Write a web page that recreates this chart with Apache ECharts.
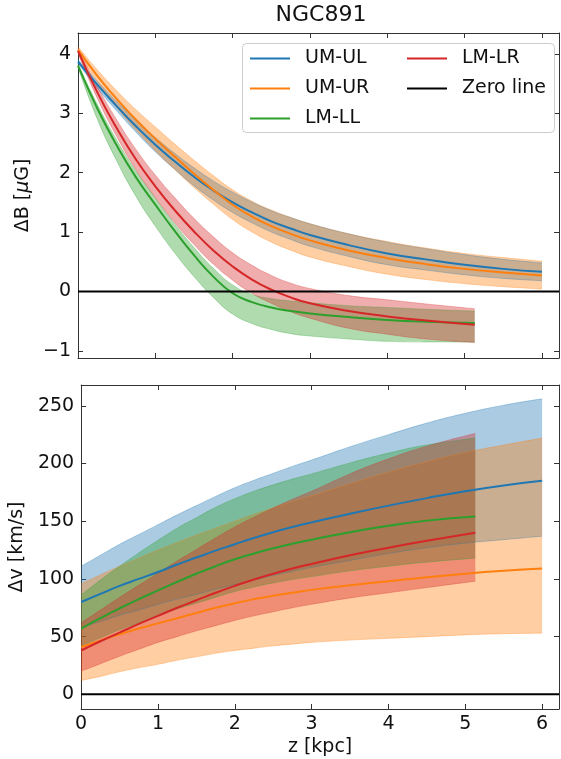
<!DOCTYPE html>
<html>
<head>
<meta charset="utf-8">
<script src="https://cdn.jsdelivr.net/npm/echarts@6/dist/echarts.min.js"></script>
<style>
  html, body { margin: 0; padding: 0; background: #fff; }
  #chart { width: 561px; height: 759px; }
</style>
</head>
<body>
<div id="chart"></div>
<script>
// Height above the disc (kpc) at which each profile is sampled
const zUM = [0, 0.25, 0.5, 0.75, 1, 1.25, 1.5, 1.75, 2, 2.25, 2.5, 2.75, 3, 3.5, 4, 4.5, 5, 5.5, 6];
const zLM = [0, 0.25, 0.5, 0.75, 1, 1.25, 1.5, 1.75, 2, 2.25, 2.5, 2.75, 3, 3.5, 4, 4.5, 5.13];

// Magnetic field difference ΔB (μG): best fit, lower and upper bounds
const bUL   = [3.87, 3.48, 3.12, 2.78, 2.47, 2.19, 1.93, 1.70, 1.50, 1.33, 1.18, 1.06, 0.95, 0.78, 0.64, 0.54, 0.45, 0.38, 0.33];
const bULlo = [3.84, 3.42, 3.04, 2.68, 2.35, 2.055, 1.78, 1.54, 1.33, 1.155, 1.00, 0.875, 0.76, 0.59, 0.45, 0.36, 0.28, 0.22, 0.18];
const bULhi = [3.90, 3.54, 3.20, 2.88, 2.59, 2.325, 2.08, 1.86, 1.67, 1.505, 1.36, 1.245, 1.14, 0.97, 0.83, 0.72, 0.62, 0.54, 0.48];
const bUR   = [4.07, 3.63, 3.24, 2.89, 2.57, 2.27, 1.98, 1.71, 1.46, 1.26, 1.10, 0.97, 0.86, 0.69, 0.56, 0.46, 0.38, 0.32, 0.27];
const bURlo = [4.02, 3.53, 3.10, 2.72, 2.37, 2.055, 1.75, 1.47, 1.21, 1.00, 0.83, 0.695, 0.58, 0.42, 0.29, 0.20, 0.13, 0.08, 0.04];
const bURhi = [4.12, 3.73, 3.38, 3.06, 2.77, 2.485, 2.21, 1.95, 1.71, 1.52, 1.37, 1.245, 1.14, 0.97, 0.84, 0.73, 0.64, 0.57, 0.51];
const bLL   = [3.80, 3.08, 2.46, 1.92, 1.46, 1.02, 0.61, 0.25, -0.03, -0.18, -0.27, -0.33, -0.37, -0.43, -0.48, -0.51, -0.53];
const bLLlo = [3.77, 2.90, 2.20, 1.60, 1.10, 0.65, 0.25, -0.10, -0.38, -0.54, -0.64, -0.71, -0.75, -0.80, -0.84, -0.85, -0.85];
const bLLhi = [3.83, 3.15, 2.55, 2.03, 1.57, 1.14, 0.74, 0.39, 0.11, -0.05, -0.12, -0.16, -0.19, -0.24, -0.27, -0.30, -0.33];
const bLR   = [4.05, 3.35, 2.75, 2.22, 1.77, 1.37, 1.01, 0.69, 0.42, 0.20, 0.03, -0.10, -0.20, -0.33, -0.42, -0.49, -0.56];
const bLRlo = [4.01, 3.25, 2.61, 2.05, 1.58, 1.16, 0.79, 0.46, 0.19, -0.03, -0.20, -0.34, -0.45, -0.62, -0.72, -0.80, -0.86];
const bLRhi = [4.09, 3.45, 2.89, 2.39, 1.96, 1.58, 1.23, 0.92, 0.65, 0.44, 0.27, 0.14, 0.05, -0.07, -0.14, -0.21, -0.29];

// Velocity difference Δv (km/s): best fit, lower and upper bounds
const vUL   = [80, 87, 94, 100, 106, 112.5, 118.5, 124.5, 130, 135.5, 140.5, 145, 149, 156.5, 163.5, 170, 176, 181, 185];
const vULlo = [58, 63, 68.5, 73, 78, 82.5, 86.5, 91, 95, 99, 103, 106.5, 110, 116, 122, 127, 131, 134, 137];
const vULhi = [111, 120.5, 130, 138.5, 147, 155.5, 163.5, 171.5, 179, 185.5, 191.5, 197.5, 203, 214.5, 225, 235, 243.5, 250.5, 256];
const vUR   = [41, 46.5, 52, 57, 61.5, 66, 70.5, 75, 79, 82.5, 85.5, 88, 90.5, 94.5, 98, 101.5, 104.5, 107, 109];
const vURlo = [12, 15.5, 19.5, 23, 26, 29.5, 32.5, 35.5, 38, 40, 42, 43.5, 45, 47, 48.5, 50, 51.5, 52.5, 53];
const vURhi = [96, 103.5, 111, 118, 125, 131.5, 138, 144, 150, 156, 161.5, 167, 172, 182.5, 192.5, 201.5, 209.5, 216, 222];
const vLL   = [57, 66, 74.5, 82.5, 90, 97.5, 104.5, 111, 117, 122, 126.5, 130.5, 134, 140.5, 146, 150.5, 154];
const vLLlo = [42, 49, 56, 62, 68, 74, 79, 84, 89, 93, 96.5, 99.5, 102, 107, 111, 114.5, 118];
const vLLhi = [86, 99, 111, 122.5, 133.5, 144, 153, 162, 169.5, 176, 181.5, 186.5, 191, 200.5, 209, 216, 222];
const vLR   = [38, 46, 53.5, 61, 68, 75, 81.5, 88, 94, 99.5, 104.5, 109, 113, 120.5, 127, 133, 140];
const vLRlo = [20, 26.5, 33, 39, 45, 50, 55, 59.5, 64, 68, 71.5, 75, 78, 83.5, 88, 92.5, 98];
const vLRhi = [62, 73, 84, 94.5, 105, 115.5, 125.5, 135.5, 145, 153.5, 161.5, 169, 176, 191, 204, 215, 226];

// Axis ranges and tick labels
const zRange = [0, 6.22];
const bRange = [-1.12, 4.35];
const vRange = [-12.7, 268];
const zTicks = [0, 1, 2, 3, 4, 5, 6];
const bTicks = [-1, 0, 1, 2, 3, 4];
const vTicks = [0, 50, 100, 150, 200, 250];

const FONT = 'DejaVu Sans';
const INK = '#111';
const SPINE = '#333';
const SMOOTH = 0.5;

const curves = [
  { name: 'UM-UL', color: '#1f77b4', z: zUM, b: [bUL, bULlo, bULhi], v: [vUL, vULlo, vULhi] },
  { name: 'UM-UR', color: '#ff7f0e', z: zUM, b: [bUR, bURlo, bURhi], v: [vUR, vURlo, vURhi] },
  { name: 'LM-LL', color: '#2ca02c', z: zLM, b: [bLL, bLLlo, bLLhi], v: [vLL, vLLlo, vLLhi] },
  { name: 'LM-LR', color: '#d62728', z: zLM, b: [bLR, bLRlo, bLRhi], v: [vLR, vLRlo, vLRhi] }
];

const minus = v => String(v).replace('-', '\u2212');

function xAxis(gridIndex, position, withLabels) {
  return {
    type: 'value', gridIndex, position,
    min: zRange[0], max: zRange[1], interval: 1,
    axisLine: { onZero: false, lineStyle: { color: SPINE, width: 1 } },
    axisTick: { inside: true, length: 5, customValues: zTicks, lineStyle: { color: SPINE } },
    axisLabel: { show: withLabels, customValues: zTicks, margin: 6, fontSize: 19, fontFamily: FONT, color: INK, formatter: minus },
    splitLine: { show: false }
  };
}

function yAxis(gridIndex, position, range, ticks, withLabels) {
  return {
    type: 'value', gridIndex, position,
    min: range[0], max: range[1],
    axisLine: { onZero: false, lineStyle: { color: SPINE, width: 1 } },
    axisTick: { inside: true, length: 5, customValues: ticks, lineStyle: { color: SPINE } },
    axisLabel: { show: withLabels, customValues: ticks, margin: 7, fontSize: 19, fontFamily: FONT, color: INK, formatter: minus },
    splitLine: { show: false }
  };
}

// Uncertainty band: faint lower edge plus stacked (upper - lower) area
function bandSeries(c, panel, vals) {
  const lo = vals[1], hi = vals[2];
  const common = {
    type: 'line', xAxisIndex: panel * 2, yAxisIndex: panel * 2,
    stack: c.name + '-' + panel, stackStrategy: 'all',
    encode: { x: 1, y: 0 },
    smooth: SMOOTH, symbol: 'none', silent: true, z: 2,
    emphasis: { disabled: true }
  };
  return [
    Object.assign({}, common, {
      name: c.name + ' lower',
      data: c.z.map((x, i) => [lo[i], x]),
      lineStyle: { width: 1, color: c.color, opacity: 0.3 }
    }),
    Object.assign({}, common, {
      name: c.name + ' band',
      data: c.z.map((x, i) => [hi[i] - lo[i], x]),
      lineStyle: { width: 1, color: c.color, opacity: 0.3 },
      areaStyle: { color: c.color, opacity: 0.38 }
    })
  ];
}

function lineSeries(c, panel, vals) {
  return {
    type: 'line', name: c.name, xAxisIndex: panel * 2, yAxisIndex: panel * 2,
    data: c.z.map((x, i) => [x, vals[0][i]]),
    smooth: SMOOTH, symbol: 'none', silent: true, z: 3,
    color: c.color, lineStyle: { width: 2, color: c.color },
    emphasis: { disabled: true }
  };
}

function zeroSeries(panel) {
  return {
    type: 'line', name: 'Zero line', xAxisIndex: panel * 2, yAxisIndex: panel * 2,
    data: [[zRange[0], 0], [zRange[1], 0]],
    symbol: 'none', silent: true, z: 4,
    color: '#000', lineStyle: { width: 2, color: '#000' },
    emphasis: { disabled: true }
  };
}

const series = [];
[0, 1].forEach(panel => {
  const key = panel === 0 ? 'b' : 'v';
  curves.forEach(c => series.push(...bandSeries(c, panel, c[key])));
  curves.forEach(c => series.push(lineSeries(c, panel, c[key])));
  series.push(zeroSeries(panel));
});

const legendText = { fontSize: 19, fontFamily: FONT, color: INK, padding: [0, 0, 0, 10] };

const option = {
  animation: false,
  backgroundColor: '#fff',
  title: {
    text: 'NGC891', left: 321, top: 4, padding: 0, textAlign: 'center',
    textStyle: { fontSize: 22, fontWeight: 'normal', fontFamily: FONT, color: INK }
  },
  grid: [
    { left: 78, top: 33, width: 481, height: 325 },
    { left: 78, top: 385, width: 481, height: 324 }
  ],
  xAxis: [
    xAxis(0, 'bottom', false),
    xAxis(0, 'top', false),
    Object.assign(xAxis(1, 'bottom', true), {
      name: 'z [kpc]', nameLocation: 'middle', nameGap: 29,
      nameTextStyle: { fontSize: 19, fontFamily: FONT, color: INK }
    }),
    xAxis(1, 'top', false)
  ],
  yAxis: [
    Object.assign(yAxis(0, 'left', bRange, bTicks, true), {
      name: 'ΔB [{i|μ}G]', nameLocation: 'middle', nameGap: 43,
      nameTextStyle: {
        fontSize: 19, fontFamily: FONT, color: INK,
        rich: { i: { fontSize: 19, fontFamily: FONT, color: INK, fontStyle: 'italic' } }
      }
    }),
    yAxis(0, 'right', bRange, bTicks, false),
    Object.assign(yAxis(1, 'left', vRange, vTicks, true), {
      name: 'Δv [km/s]', nameLocation: 'middle', nameGap: 48,
      nameTextStyle: { fontSize: 19, fontFamily: FONT, color: INK }
    }),
    yAxis(1, 'right', vRange, vTicks, false)
  ],
  legend: [
    {
      data: ['UM-UL', 'UM-UR', 'LM-LL'], orient: 'vertical', left: 250, top: 49, padding: 0,
      icon: 'rect', itemWidth: 40, itemHeight: 2, itemGap: 11, selectedMode: false,
      textStyle: legendText, z: 6
    },
    {
      data: ['LM-LR', 'Zero line'], orient: 'vertical', left: 407, top: 49, padding: 0,
      icon: 'rect', itemWidth: 40, itemHeight: 2, itemGap: 11, selectedMode: false,
      textStyle: legendText, z: 6
    }
  ],
  graphic: [{
    type: 'rect', silent: true, z: 5,
    shape: { x: 242.5, y: 43.5, width: 312, height: 89, r: 4 },
    style: { fill: 'rgba(255,255,255,0.8)', stroke: '#cccccc', lineWidth: 1 }
  }],
  series
};

const chart = echarts.init(document.getElementById('chart'), null, { renderer: 'canvas' });
chart.setOption(option);
</script>
</body>
</html>
